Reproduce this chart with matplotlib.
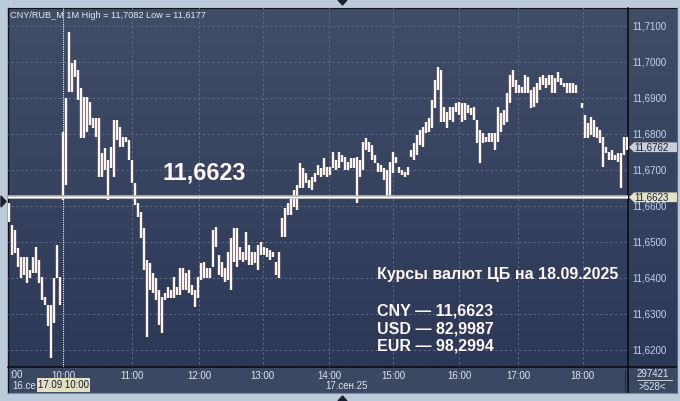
import numpy as np
import matplotlib
matplotlib.use("Agg")
import matplotlib.pyplot as plt
from matplotlib.patches import Polygon, Rectangle
from matplotlib.colors import LinearSegmentedColormap
from matplotlib.transforms import blended_transform_factory

plt.rcParams['font.family'] = ['Liberation Sans', 'DejaVu Sans']

# ---------------- data ----------------
high = [
    11.6607, 11.6546, 11.6532, 11.6482, 11.6457, 11.6457, 11.6457, 11.6421, 11.6457, 11.6485,
    11.6449, 11.6402, 11.6346, 11.6324, 11.6324, 11.6399, 11.6490, 11.6402, 11.6804, 11.6899,
    11.7082, 11.6996, 11.7004, 11.6977, 11.6927, 11.6902, 11.6902, 11.6888, 11.6843, 11.6843,
    11.6843, 11.6746, 11.6760, 11.6727, 11.6763, 11.6838, 11.6838, 11.6818, 11.6790, 11.6790,
    11.6782, 11.6727, 11.6663, 11.6607, 11.6582, 11.6538, 11.6449, 11.6440, 11.6413, 11.6399,
    11.6366, 11.6346, 11.6357, 11.6374, 11.6366, 11.6402, 11.6374, 11.6427, 11.6427, 11.6413,
    11.6421, 11.6379, 11.6366, 11.6402, 11.6440, 11.6443, 11.6427, 11.6427, 11.6532, 11.6540,
    11.6463, 11.6443, 11.6427, 11.6471, 11.6510, 11.6538, 11.6538, 11.6485, 11.6471, 11.6527,
    11.6490, 11.6471, 11.6471, 11.6490, 11.6499, 11.6485, 11.6482, 11.6477, 11.6471, 11.6443,
    11.6471, 11.6565, 11.6593, 11.6607, 11.6621, 11.6643, 11.6657, 11.6718, 11.6704, 11.6690,
    11.6671, 11.6679, 11.6690, 11.6713, 11.6704, 11.6732, 11.6707, 11.6707, 11.6749, 11.6727,
    11.6749, 11.6740, 11.6735, 11.6721, 11.6732, 11.6732, 11.6735, 11.6727, 11.6777, 11.6788,
    11.6777, 11.6768, 11.6740, 11.6718, 11.6713, 11.6704, 11.6699, 11.6721, 11.6749, 11.6735,
    11.6707, 11.6699, 11.6693, 11.6707, 11.6754, 11.6774, 11.6796, 11.6810, 11.6818, 11.6832,
    11.6843, 11.6893, 11.6949, 11.6985, 11.6977, 11.6874, 11.6860, 11.6874, 11.6874, 11.6885,
    11.6888, 11.6885, 11.6885, 11.6879, 11.6871, 11.6874, 11.6838, 11.6810, 11.6801, 11.6790,
    11.6801, 11.6801, 11.6801, 11.6874, 11.6857, 11.6866, 11.6913, 11.6963, 11.6977, 11.6949,
    11.6935, 11.6929, 11.6963, 11.6957, 11.6921, 11.6929, 11.6940, 11.6957, 11.6963, 11.6954,
    11.6963, 11.6963, 11.6954, 11.6971, 11.6954, 11.6940, 11.6940, 11.6940, 11.6940, 11.6935,
    np.nan, 11.6885, 11.6852, 11.6829, 11.6846, 11.6838, 11.6818, 11.6810, 11.6790, 11.6763,
    11.6749, 11.6754, 11.6740, 11.6746, 11.6746, 11.6790, 11.6790,
]
low = [
    11.6554, 11.6463, 11.6468, 11.6429, 11.6399, 11.6407, 11.6385, 11.6399, 11.6413, 11.6413,
    11.6385, 11.6338, 11.6324, 11.6265, 11.6177, 11.6274, 11.6399, 11.6324, 11.6616, 11.6657,
    11.6915, 11.6915, 11.6957, 11.6893, 11.6788, 11.6788, 11.6804, 11.6824, 11.6815, 11.6790,
    11.6679, 11.6679, 11.6699, 11.6616, 11.6704, 11.6679, 11.6782, 11.6763, 11.6763, 11.6777,
    11.6727, 11.6663, 11.6602, 11.6568, 11.6510, 11.6421, 11.6235, 11.6366, 11.6357, 11.6338,
    11.6268, 11.6246, 11.6338, 11.6343, 11.6343, 11.6343, 11.6352, 11.6352, 11.6366, 11.6366,
    11.6357, 11.6352, 11.6318, 11.6343, 11.6393, 11.6399, 11.6399, 11.6399, 11.6429, 11.6485,
    11.6407, 11.6402, 11.6388, 11.6393, 11.6366, 11.6443, 11.6429, 11.6449, 11.6443, 11.6449,
    11.6435, 11.6435, 11.6440, 11.6421, 11.6463, 11.6463, 11.6457, 11.6449, 11.6457, 11.6407,
    11.6399, 11.6513, 11.6513, 11.6574, 11.6574, 11.6596, 11.6588, 11.6649, 11.6649, 11.6663,
    11.6649, 11.6643, 11.6665, 11.6685, 11.6679, 11.6685, 11.6679, 11.6685, 11.6704, 11.6699,
    11.6704, 11.6721, 11.6699, 11.6699, 11.6704, 11.6704, 11.6607, 11.6679, 11.6699, 11.6754,
    11.6749, 11.6727, 11.6718, 11.6693, 11.6693, 11.6671, 11.6624, 11.6624, 11.6690, 11.6718,
    11.6690, 11.6685, 11.6679, 11.6685, 11.6735, 11.6727, 11.6740, 11.6768, 11.6763, 11.6801,
    11.6804, 11.6815, 11.6871, 11.6921, 11.6832, 11.6832, 11.6815, 11.6838, 11.6832, 11.6860,
    11.6852, 11.6832, 11.6838, 11.6857, 11.6852, 11.6838, 11.6774, 11.6718, 11.6774, 11.6777,
    11.6777, 11.6777, 11.6754, 11.6777, 11.6804, 11.6824, 11.6832, 11.6885, 11.6929, 11.6913,
    11.6913, 11.6913, 11.6913, 11.6913, 11.6871, 11.6874, 11.6885, 11.6921, 11.6935, 11.6927,
    11.6935, 11.6913, 11.6913, 11.6943, 11.6935, 11.6929, 11.6913, 11.6913, 11.6913, 11.6913,
    np.nan, 11.6871, 11.6788, 11.6788, 11.6796, 11.6790, 11.6788, 11.6774, 11.6707, 11.6746,
    11.6727, 11.6727, 11.6727, 11.6721, 11.6649, 11.6740, 11.6754,
]

price_ticks = [11.62, 11.63, 11.64, 11.65, 11.66, 11.67, 11.68, 11.69, 11.70, 11.71]
price_labels = ["11,6200", "11,6300", "11,6400", "11,6500", "11,6600",
                "11,6700", "11,6800", "11,6900", "11,7000", "11,7100"]
hour_labels = ["10:00", "11:00", "12:00", "13:00", "14:00", "15:00", "16:00", "17:00", "18:00"]
hour_bars = [18.0, 40.9, 63.3, 84.5, 106.7, 128.0, 150.0, 169.7, 191.2]

last_price = 11.6762
last_label = "11,6762"
cb_rate = 11.6623
cb_label = "11,6623"
title_text = "CNY/RUB_M 1M High = 11,7082 Low = 11,6177"
info_title = "Курсы валют ЦБ на 18.09.2025"
rate_names = ["CNY", "USD", "EUR"]
rate_values = ["11,6623", "82,9987", "98,2994"]

# ---------------- figure ----------------
W, H = 680, 401
fig = plt.figure(figsize=(W / 100, H / 100), dpi=100)
fig.patch.set_facecolor('#bccadb')

# background / frame layer (pixel coordinates)
bg = fig.add_axes([0, 0, 1, 1], zorder=0)
bg.set_xlim(0, W)
bg.set_ylim(H, 0)
bg.axis('off')
cmap = LinearSegmentedColormap.from_list('g', ['#414d67', '#2c3856'])
grad = np.linspace(0, 1, 256).reshape(-1, 1)
bg.imshow(grad, extent=(8, 677, 367, 8), aspect='auto', cmap=cmap, origin='upper', zorder=0)
bg.add_patch(Rectangle((8, 367), 669, 26, facecolor='#3c4862', edgecolor='none', zorder=1))
# borders
dark = '#0d121c'
bg.plot([8, 8], [8, 393], color=dark, lw=1.0, zorder=2)
bg.plot([8, 677], [8.3, 8.3], color=dark, lw=0.8, zorder=2)
bg.plot([628, 628], [8, 393], color='#05080e', lw=1.1, zorder=2)
bg.plot([8, 677], [367, 367], color='#05080e', lw=1.1, zorder=2)
bg.plot([677, 677], [8, 393], color='#5a6680', lw=0.8, zorder=2)
bg.plot([8, 677], [393, 393], color='#7d8aa2', lw=0.8, zorder=2)
bg.plot([625, 625], [370, 390], color='#232c40', lw=0.8, zorder=2)
# small scroll markers
tri_c = '#1a2030'
bg.add_patch(Polygon([(338, 0), (347, 0), (342.5, 5)], closed=True, color=tri_c, zorder=3))
bg.add_patch(Polygon([(338, 401), (347, 401), (342.5, 396)], closed=True, color=tri_c, zorder=3))
bg.add_patch(Polygon([(1, 196), (1, 207), (6, 201.5)], closed=True, color=tri_c, zorder=3))

# main plot axes
ax = fig.add_axes([8 / W, 1 - 367 / H, 620 / W, 359 / H], zorder=1)
ax.patch.set_alpha(0)
for s in ax.spines.values():
    s.set_visible(False)
ax.set_xlim(-1 / 3, 619 / 3)
ax.set_ylim(11.61516, 11.71488)

grid_c = '#5d6985'
ax.hlines(price_ticks, -1, 210, colors=grid_c, linestyles=(0, (2.3, 2.3)), lw=0.75, zorder=1)
ax.vlines(hour_bars[1:], 11.6, 11.72, colors=grid_c, linestyles=(0, (2.3, 2.3)), lw=0.75, zorder=1)
ax.axvline(hour_bars[0], color='#f4f4f4', lw=0.8, ls=(0, (1.0, 1.0)), zorder=2)

x = np.arange(len(high))
ax.vlines(x, low, high, colors='#fff3ee', lw=1.7, zorder=3)

ax.axhline(cb_rate, color='#b9b9b9', lw=2.6, zorder=4)
ax.axhline(cb_rate, color='#ffffff', lw=1.0, zorder=5)

ax.yaxis.tick_right()
ax.set_yticks(price_ticks, price_labels)
ax.tick_params(axis='y', length=0, pad=3.4, labelsize=7.0, labelcolor='#c5d2ee')
ax.set_xticks(hour_bars, hour_labels)
ax.tick_params(axis='x', length=0, pad=2.6, labelsize=7.0, labelcolor='#dfe5ef')

# price tags on the right scale
tr = blended_transform_factory(ax.transAxes, ax.transData)
hh = 0.00135
for p, lab, fc in [(last_price, last_label, '#c9cdd8'), (cb_rate, cb_label, '#e6e2c7')]:
    ax.add_patch(Polygon([(1.0016, p), (1.0097, p + hh), (1.079, p + hh), (1.079, p - hh), (1.0097, p - hh)],
                         closed=True, transform=tr, facecolor=fc, edgecolor='none', clip_on=False, zorder=6))
    ax.text(1.0100, p, lab, transform=tr, ha='left', va='center', fontsize=7.0,
            color='#16203a', clip_on=False, zorder=7)

# foreground text layer
fg = fig.add_axes([0, 0, 1, 1], zorder=3)
fg.set_xlim(0, W)
fg.set_ylim(H, 0)
fg.axis('off')
fg.text(10, 15, title_text, fontsize=6.6, color='#e6eaf2', ha='left', va='center')
fg.text(163, 173, cb_label, fontsize=16.8, fontweight='bold', color='#fdf6f2', ha='left', va='center')
fg.text(377, 274, info_title, fontsize=11.5, fontweight='bold', color='#fdf6f2', ha='left', va='center')
for k, (n, v) in enumerate(zip(rate_names, rate_values)):
    fg.text(377, 311 + 17.5 * k, f"{n} — {v}", fontsize=11.5, fontweight='bold',
            color='#fdf6f2', ha='left', va='center')

lab_c = '#dfe5ef'
fg.text(9, 375, ":00", fontsize=7.0, color=lab_c, ha='left', va='center')
fg.text(36, 386, "16.се", fontsize=7.0, color=lab_c, ha='right', va='center')
fg.add_patch(Rectangle((37, 378), 53, 14, facecolor='#e4e0c4', edgecolor='none', zorder=2))
fg.text(63.5, 385.5, "17.09 10:00", fontsize=6.9, color='#111827', ha='center', va='center', zorder=3)
fg.text(347, 386, "17.сен.25", fontsize=7.0, color=lab_c, ha='center', va='center')
fg.text(652.5, 374, "297421", fontsize=7.0, color=lab_c, ha='center', va='center')
fg.plot([637, 672], [380, 380], color='#c8d0e0', lw=0.7)
fg.text(652.5, 386.5, ">528<", fontsize=7.0, color=lab_c, ha='center', va='center')

fig.savefig('out.png', dpi=100)
